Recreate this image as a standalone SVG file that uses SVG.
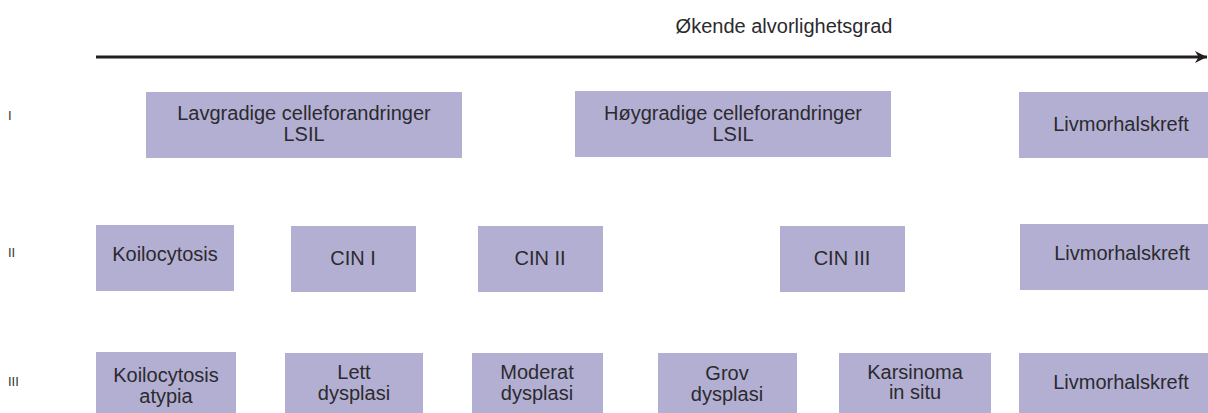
<svg xmlns="http://www.w3.org/2000/svg" width="1208" height="413" viewBox="0 0 1208 413">
<style>
.box{fill:#b3afd3}
.t{font-family:"Liberation Sans",Arial,sans-serif;font-size:20px;fill:#2b2a2e;text-anchor:middle}
.lvl{font-family:"Liberation Sans",Arial,sans-serif;font-size:13px;fill:#333;text-anchor:start}
</style>
<defs>
<marker id="ah" viewBox="0 0 10 10" refX="10" refY="5" markerWidth="4" markerHeight="4" orient="auto" markerUnits="strokeWidth">
<path d="M0,0 L10,5 L0,10 L3,5 Z" fill="#231f20"/>
</marker>
</defs>
<rect width="1208" height="413" fill="#fff"/>
<text class="t" x="784" y="33">Økende alvorlighetsgrad</text>
<g id="connectors">
<line x1="96" y1="57" x2="1207" y2="57" stroke="#231f20" stroke-width="3" marker-end="url(#ah)"/>
</g>
<text class="lvl" x="8" y="120">I</text>
<text class="lvl" x="8" y="257">II</text>
<text class="lvl" x="8" y="386">III</text>
<g id="n1"><rect class="box" x="146" y="92" width="316" height="66"/><text class="t" x="304" y="120">Lavgradige celleforandringer</text><text class="t" x="304" y="141">LSIL</text></g>
<g id="n2"><rect class="box" x="575" y="91" width="316" height="66"/><text class="t" x="733" y="120">Høygradige celleforandringer</text><text class="t" x="733" y="141">LSIL</text></g>
<g id="n3"><rect class="box" x="1019" y="92" width="189" height="66"/><text class="t" x="1121" y="131">Livmorhalskreft</text></g>
<g id="n4"><rect class="box" x="96" y="225" width="138" height="66"/><text class="t" x="165" y="261">Koilocytosis</text></g>
<g id="n5"><rect class="box" x="291" y="226" width="125" height="66"/><text class="t" x="353" y="265">CIN I</text></g>
<g id="n6"><rect class="box" x="478" y="226" width="125" height="66"/><text class="t" x="540" y="265">CIN II</text></g>
<g id="n7"><rect class="box" x="780" y="226" width="125" height="66"/><text class="t" x="842" y="265">CIN III</text></g>
<g id="n8"><rect class="box" x="1020" y="224" width="188" height="66"/><text class="t" x="1122" y="260">Livmorhalskreft</text></g>
<g id="n9"><rect class="box" x="96" y="352" width="140" height="61"/><text class="t" x="166" y="382">Koilocytosis</text><text class="t" x="166" y="403">atypia</text></g>
<g id="n10"><rect class="box" x="285" y="353" width="138" height="60"/><text class="t" x="354" y="379">Lett</text><text class="t" x="354" y="400">dysplasi</text></g>
<g id="n11"><rect class="box" x="472" y="353" width="131" height="60"/><text class="t" x="537" y="379">Moderat</text><text class="t" x="537" y="400">dysplasi</text></g>
<g id="n12"><rect class="box" x="658" y="353" width="139" height="60"/><text class="t" x="727" y="380">Grov</text><text class="t" x="727" y="401">dysplasi</text></g>
<g id="n13"><rect class="box" x="839" y="353" width="152" height="60"/><text class="t" x="915" y="379">Karsinoma</text><text class="t" x="915" y="399">in situ</text></g>
<g id="n14"><rect class="box" x="1019" y="353" width="189" height="60"/><text class="t" x="1121" y="389">Livmorhalskreft</text></g>
</svg>
